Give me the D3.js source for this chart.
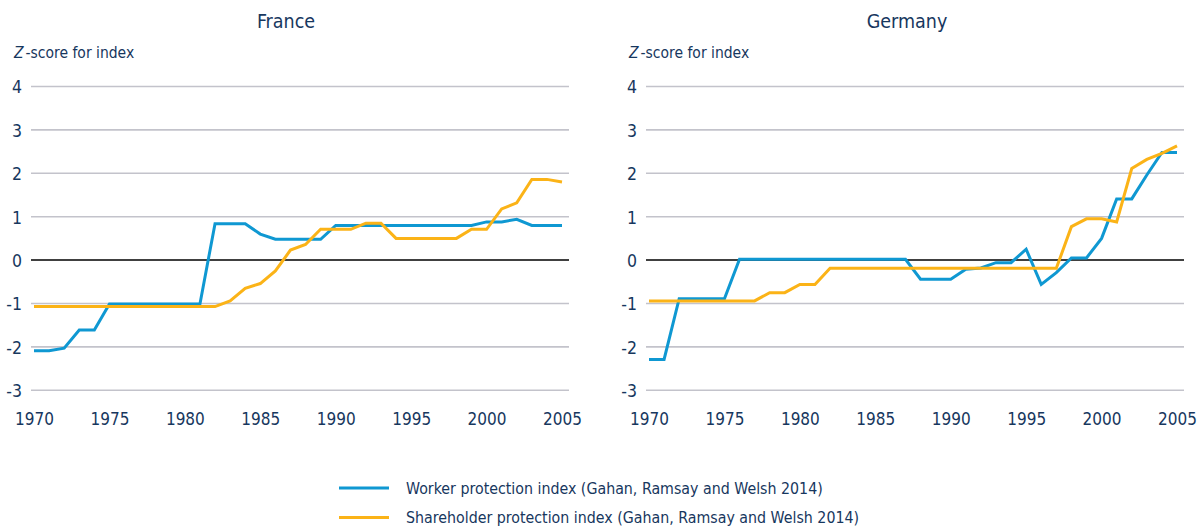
<!DOCTYPE html>
<html>
<head>
<meta charset="utf-8">
<script src="https://cdn.jsdelivr.net/npm/d3@7"></script>
<style>
  body { margin: 0; background: #fff; }
  svg text { font-family: "DejaVu Sans", sans-serif; font-stretch: condensed; fill: #17375e; }
</style>
</head>
<body>
<script>
var svgWidth = 1197;
var svgHeight = 526;

// data
var years = [1970, 1971, 1972, 1973, 1974, 1975, 1976, 1977, 1978, 1979,
  1980, 1981, 1982, 1983, 1984, 1985, 1986, 1987, 1988, 1989,
  1990, 1991, 1992, 1993, 1994, 1995, 1996, 1997, 1998, 1999,
  2000, 2001, 2002, 2003, 2004, 2005];

var franceWorker = [-2.09, -2.09, -2.03, -1.61, -1.61, -1.01, -1.01, -1.01, -1.01, -1.01,
  -1.01, -1.01, 0.84, 0.84, 0.84, 0.60, 0.48, 0.48, 0.48, 0.48,
  0.80, 0.80, 0.80, 0.80, 0.80, 0.80, 0.80, 0.80, 0.80, 0.80,
  0.88, 0.88, 0.94, 0.80, 0.80, 0.80];

var franceShareholder = [-1.07, -1.07, -1.07, -1.07, -1.07, -1.07, -1.07, -1.07, -1.07, -1.07,
  -1.07, -1.07, -1.07, -0.94, -0.65, -0.54, -0.25, 0.23, 0.36, 0.71,
  0.71, 0.71, 0.85, 0.85, 0.50, 0.50, 0.50, 0.50, 0.50, 0.71,
  0.71, 1.18, 1.32, 1.86, 1.86, 1.80];

var germanyWorker = [-2.29, -2.29, -0.89, -0.89, -0.89, -0.89, 0.02, 0.02, 0.02, 0.02,
  0.02, 0.02, 0.02, 0.02, 0.02, 0.02, 0.02, 0.02, -0.44, -0.44,
  -0.44, -0.21, -0.18, -0.06, -0.06, 0.25, -0.56, -0.29, 0.05, 0.05,
  0.50, 1.41, 1.41, 1.96, 2.48, 2.48];

var germanyShareholder = [-0.94, -0.94, -0.94, -0.94, -0.94, -0.94, -0.94, -0.94, -0.75, -0.75,
  -0.56, -0.56, -0.19, -0.19, -0.19, -0.19, -0.19, -0.19, -0.19, -0.19,
  -0.19, -0.19, -0.19, -0.19, -0.19, -0.19, -0.19, -0.19, 0.77, 0.95,
  0.95, 0.88, 2.11, 2.32, 2.46, 2.63];

var xTicks = [1970, 1975, 1980, 1985, 1990, 1995, 2000, 2005];
var yTicks = [-3, -2, -1, 0, 1, 2, 3, 4];

var seriesNames = ["Worker protection index (Gahan, Ramsay and Welsh 2014)",
  "Shareholder protection index (Gahan, Ramsay and Welsh 2014)"];
var seriesColors = ["#0f98d2", "#fbb317"];

var svg = d3.select("body")
  .append("svg")
  .attr("width", svgWidth)
  .attr("height", svgHeight);

var yScale = d3.scaleLinear().domain([-3, 4]).range([390.3, 86.5]);

function drawPanel(left, titleX, title, worker, shareholder) {
  var plotW = 538;
  var xScale = d3.scaleLinear().domain([1970, 2005]).range([left + 3, left + 531]);

  var g = svg.append("g");

  // title
  g.append("text")
    .attr("x", titleX)
    .attr("y", 28)
    .attr("text-anchor", "middle")
    .style("font-size", "19.5px")
    .text(title);

  // y axis caption
  var cap = g.append("text")
    .attr("x", left - 17)
    .attr("y", 58)
    .style("font-size", "15.5px");
  cap.append("tspan").style("font-style", "italic").text("Z");
  cap.append("tspan").attr("dx", 2).text("-score for index");

  // gridlines
  g.selectAll("line.grid")
    .data(yTicks)
    .enter()
    .append("line")
    .attr("class", "grid")
    .attr("x1", left)
    .attr("x2", left + plotW)
    .attr("y1", d => yScale(d))
    .attr("y2", d => yScale(d))
    .attr("stroke", d => d === 0 ? "#000" : "#c3c3cb")
    .attr("stroke-width", d => d === 0 ? 1.5 : 1.6);

  // y labels
  var leftAxis = d3.axisLeft(yScale).tickValues(yTicks).tickSize(0).tickPadding(9)
    .tickFormat(d => String(d));
  var ya = g.append("g")
    .attr("transform", "translate(" + left + ",0)")
    .call(leftAxis);
  ya.select(".domain").remove();
  ya.selectAll("text")
    .style("font-size", "17.5px")
    .attr("dy", "0.36em");

  // x labels
  var bottomAxis = d3.axisBottom(xScale).tickValues(xTicks).tickSize(0).tickPadding(0)
    .tickFormat(d3.format("d"));
  var xa = g.append("g")
    .attr("transform", "translate(0,412)")
    .call(bottomAxis);
  xa.select(".domain").remove();
  xa.selectAll("text")
    .style("font-size", "17px")
    .attr("dy", "0.75em");

  var line = d3.line()
    .x((d, i) => xScale(years[i]))
    .y(d => yScale(d));

  [worker, shareholder].forEach(function(vals, i) {
    g.append("path")
      .datum(vals)
      .attr("d", line)
      .attr("fill", "none")
      .attr("stroke", seriesColors[i])
      .attr("stroke-width", 3)
      .attr("stroke-linejoin", "miter");
  });
}

drawPanel(31, 286, "France", franceWorker, franceShareholder);
drawPanel(646, 907, "Germany", germanyWorker, germanyShareholder);

// legend
var legend = svg.append("g");
seriesNames.forEach(function(name, i) {
  var y = 488 + i * 29.5;
  legend.append("line")
    .attr("x1", 339)
    .attr("x2", 389)
    .attr("y1", y)
    .attr("y2", y)
    .attr("stroke", seriesColors[i])
    .attr("stroke-width", 3);
  legend.append("text")
    .attr("x", 406)
    .attr("y", y)
    .attr("dy", "0.35em")
    .style("font-size", "15.8px")
    .text(name);
});
</script>
</body>
</html>
